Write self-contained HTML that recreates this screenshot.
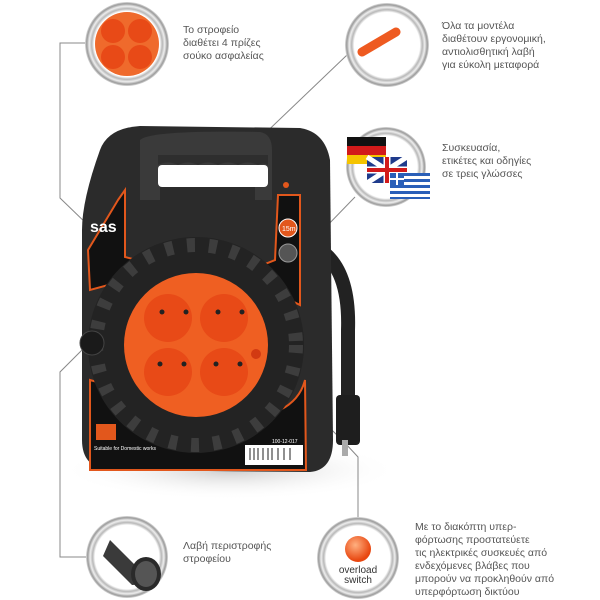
<!DOCTYPE html>
<html><head><meta charset="utf-8"><style>
html,body{margin:0;padding:0;background:#fff;}
svg{display:block;}
text{font-family:"Liberation Sans","DejaVu Sans",sans-serif;fill:#555;font-size:10.5px;}
</style></head><body>
<svg width="600" height="600" viewBox="0 0 600 600" xmlns="http://www.w3.org/2000/svg">
<defs>
<radialGradient id="ring" cx="50%" cy="50%" r="50%">
<stop offset="78%" stop-color="#fff"/><stop offset="84%" stop-color="#b8b8b8"/><stop offset="90%" stop-color="#eee"/><stop offset="96%" stop-color="#9a9a9a"/><stop offset="100%" stop-color="#ddd"/>
</radialGradient>
<radialGradient id="ball" cx="40%" cy="35%" r="60%"><stop offset="0" stop-color="#ffb080"/><stop offset="1" stop-color="#e8460f"/></radialGradient>
<radialGradient id="shadow" cx="50%" cy="50%" r="50%"><stop offset="0" stop-color="#ccc"/><stop offset="1" stop-color="#fff" stop-opacity="0"/></radialGradient>
</defs>
<ellipse cx="230" cy="470" rx="170" ry="30" fill="url(#shadow)"/>
<!-- connectors -->
<g stroke="#888" stroke-width="1" fill="none">
<polyline points="86,43 60,43 60,198 178,312"/>
<line x1="347" y1="55" x2="255" y2="143"/>
<line x1="355" y1="197" x2="292" y2="262"/>
<polyline points="90,342 60,372 60,557 86,557"/>
<polyline points="256,355 345,443 358,457 358,518"/>
</g>
<!-- cord -->
<path d="M320,250 Q350,270 348,330 L348,420" stroke="#222" stroke-width="14" fill="none"/>
<rect x="336" y="395" width="24" height="50" rx="4" fill="#1e1e1e"/>
<rect x="342" y="440" width="6" height="16" fill="#aaa"/>
<!-- body -->
<path d="M100,150 Q108,128 140,126 L300,128 Q325,132 330,160 L333,440 Q333,470 310,472 L110,470 Q82,468 82,440 L82,230 Q82,200 100,150Z" fill="#2b2b2b"/>
<path d="M118,200 L125,190 L125,257 L145,262 L145,275 L90,290 L88,250 Z" fill="#111" stroke="#e2571c" stroke-width="2"/>
<path d="M278,195 L300,195 L300,305 L270,290 L250,270 L275,260 Z" fill="#111" stroke="#e2571c" stroke-width="2"/>
<!-- handle -->
<path d="M140,140 Q150,130 260,132 Q272,134 272,150 L272,200 L255,200 L255,170 L160,170 L160,200 L140,200 Z" fill="#3a3a3a"/>
<rect x="158" y="165" width="110" height="22" rx="4" fill="#fff"/>
<path d="M158,165 q10,-5 20,0 q10,-5 20,0 q10,-5 20,0 q10,-5 20,0 q10,-5 20,0 q5,-3 10,0 L268,155 L158,155Z" fill="#2e2e2e"/>
<path d="M90,380 L125,390 Q200,440 280,410 Q300,400 305,380 L306,470 L90,470 Z" fill="#111" stroke="#e2571c" stroke-width="2"/>
<rect x="245" y="445" width="58" height="20" fill="#fff"/>
<g stroke="#222" stroke-width="1"><line x1="250" y1="448" x2="250" y2="460"/><line x1="254" y1="448" x2="254" y2="460"/><line x1="258" y1="448" x2="258" y2="460"/><line x1="263" y1="448" x2="263" y2="460"/><line x1="268" y1="448" x2="268" y2="460"/><line x1="272" y1="448" x2="272" y2="460"/><line x1="278" y1="448" x2="278" y2="460"/><line x1="284" y1="448" x2="284" y2="460"/><line x1="290" y1="448" x2="290" y2="460"/></g>
<text x="272" y="443" style="font-size:5px;fill:#fff">100-12-017</text>
<text x="94" y="450" style="font-size:5px;fill:#fff">Suitable for Domestic works</text>
<rect x="96" y="424" width="20" height="16" fill="#e2571c"/>
<text x="90" y="232" style="font-size:16px;fill:#fff;font-weight:bold">sas</text>
<circle cx="288" cy="228" r="9" fill="#e2571c" stroke="#fff" stroke-width="1"/>
<text x="282" y="231" style="font-size:7px;fill:#fff">15m</text>
<circle cx="288" cy="253" r="9" fill="#555" stroke="#999"/>
<circle cx="286" cy="185" r="3" fill="#e2571c"/>
<!-- reel -->
<circle cx="196" cy="345" r="108" fill="#232323"/>
<circle cx="196" cy="345" r="100" fill="none" stroke="#3d3d3d" stroke-width="14" stroke-dasharray="8 14"/>
<circle cx="196" cy="345" r="72" fill="#ef5f22"/>
<g fill="#e84a17">
<circle cx="168" cy="318" r="24"/><circle cx="224" cy="318" r="24"/><circle cx="168" cy="372" r="24"/><circle cx="224" cy="372" r="24"/>
</g>
<g fill="#222"><circle cx="162" cy="312" r="2.5"/><circle cx="186" cy="312" r="2.5"/><circle cx="218" cy="312" r="2.5"/><circle cx="242" cy="312" r="2.5"/><circle cx="160" cy="364" r="2.5"/><circle cx="184" cy="364" r="2.5"/><circle cx="216" cy="364" r="2.5"/><circle cx="240" cy="364" r="2.5"/></g>
<circle cx="256" cy="354" r="5" fill="#d23a12"/>
<circle cx="92" cy="343" r="12" fill="#1a1a1a" stroke="#444"/>
<!-- top-left bubble -->
<circle cx="127" cy="44" r="42" fill="url(#ring)"/>
<circle cx="127" cy="44" r="32" fill="#ef6a2c"/>
<g fill="#e84a17"><circle cx="113" cy="31" r="12"/><circle cx="140" cy="31" r="12"/><circle cx="113" cy="57" r="12"/><circle cx="140" cy="57" r="12"/></g>
<text x="183" y="33">Το στροφείο</text>
<text x="183" y="46">διαθέτει 4 πρίζες</text>
<text x="183" y="59">σούκο ασφαλείας</text>
<!-- top-right bubble -->
<circle cx="387" cy="45" r="42" fill="url(#ring)"/>
<line x1="362" y1="52" x2="396" y2="32" stroke="#ee5a20" stroke-width="9" stroke-linecap="round"/>
<text x="442" y="29">Όλα τα μοντέλα</text>
<text x="442" y="42">διαθέτουν εργονομική,</text>
<text x="442" y="55">αντιολισθητική λαβή</text>
<text x="442" y="68">για εύκολη μεταφορά</text>
<!-- flags bubble -->
<circle cx="386" cy="167" r="40" fill="url(#ring)"/>
<rect x="347" y="137" width="39" height="9" fill="#111"/><rect x="347" y="146" width="39" height="9" fill="#d21a1a"/><rect x="347" y="155" width="39" height="9" fill="#f5c400"/>
<rect x="367" y="157" width="40" height="26" fill="#1f3b8c"/>
<path d="M367,157 L407,183 M407,157 L367,183" stroke="#fff" stroke-width="5"/>
<path d="M387,157 V183 M367,170 H407" stroke="#fff" stroke-width="7"/>
<path d="M387,157 V183 M367,170 H407" stroke="#d21a1a" stroke-width="4"/>
<rect x="390" y="173" width="40" height="26" fill="#fff"/>
<g fill="#2a5fb8"><rect x="390" y="173" width="40" height="3"/><rect x="390" y="179" width="40" height="3"/><rect x="390" y="185" width="40" height="3"/><rect x="390" y="191" width="40" height="3"/><rect x="390" y="197" width="40" height="2"/><rect x="390" y="173" width="14" height="12"/></g>
<path d="M397,173 V185 M390,179 H404" stroke="#fff" stroke-width="2"/>
<text x="442" y="151">Συσκευασία,</text>
<text x="442" y="164">ετικέτες και οδηγίες</text>
<text x="442" y="177">σε τρεις γλώσσες</text>
<!-- bottom-left bubble -->
<circle cx="127" cy="557" r="41" fill="url(#ring)"/>
<path d="M110,540 L140,570 Q145,585 132,585 L103,556 Z" fill="#3a3a3a"/>
<ellipse cx="146" cy="574" rx="15" ry="17" fill="#2a2a2a"/>
<ellipse cx="146" cy="574" rx="11" ry="13" fill="#555"/>
<text x="183" y="549">Λαβή περιστροφής</text>
<text x="183" y="562">στροφείου</text>
<!-- bottom-right bubble -->
<circle cx="358" cy="558" r="41" fill="url(#ring)"/>
<circle cx="358" cy="549" r="13" fill="url(#ball)"/>
<text x="358" y="573" text-anchor="middle" style="fill:#333;font-size:10px">overload</text>
<text x="358" y="583" text-anchor="middle" style="fill:#333;font-size:10px">switch</text>
<text x="415" y="530">Με το διακόπτη υπερ-</text>
<text x="415" y="543">φόρτωσης προστατεύετε</text>
<text x="415" y="556">τις ηλεκτρικές συσκευές από</text>
<text x="415" y="569">ενδεχόμενες βλάβες που</text>
<text x="415" y="582">μπορούν να προκληθούν από</text>
<text x="415" y="595">υπερφόρτωση δικτύου</text>
</svg>
</body></html>
